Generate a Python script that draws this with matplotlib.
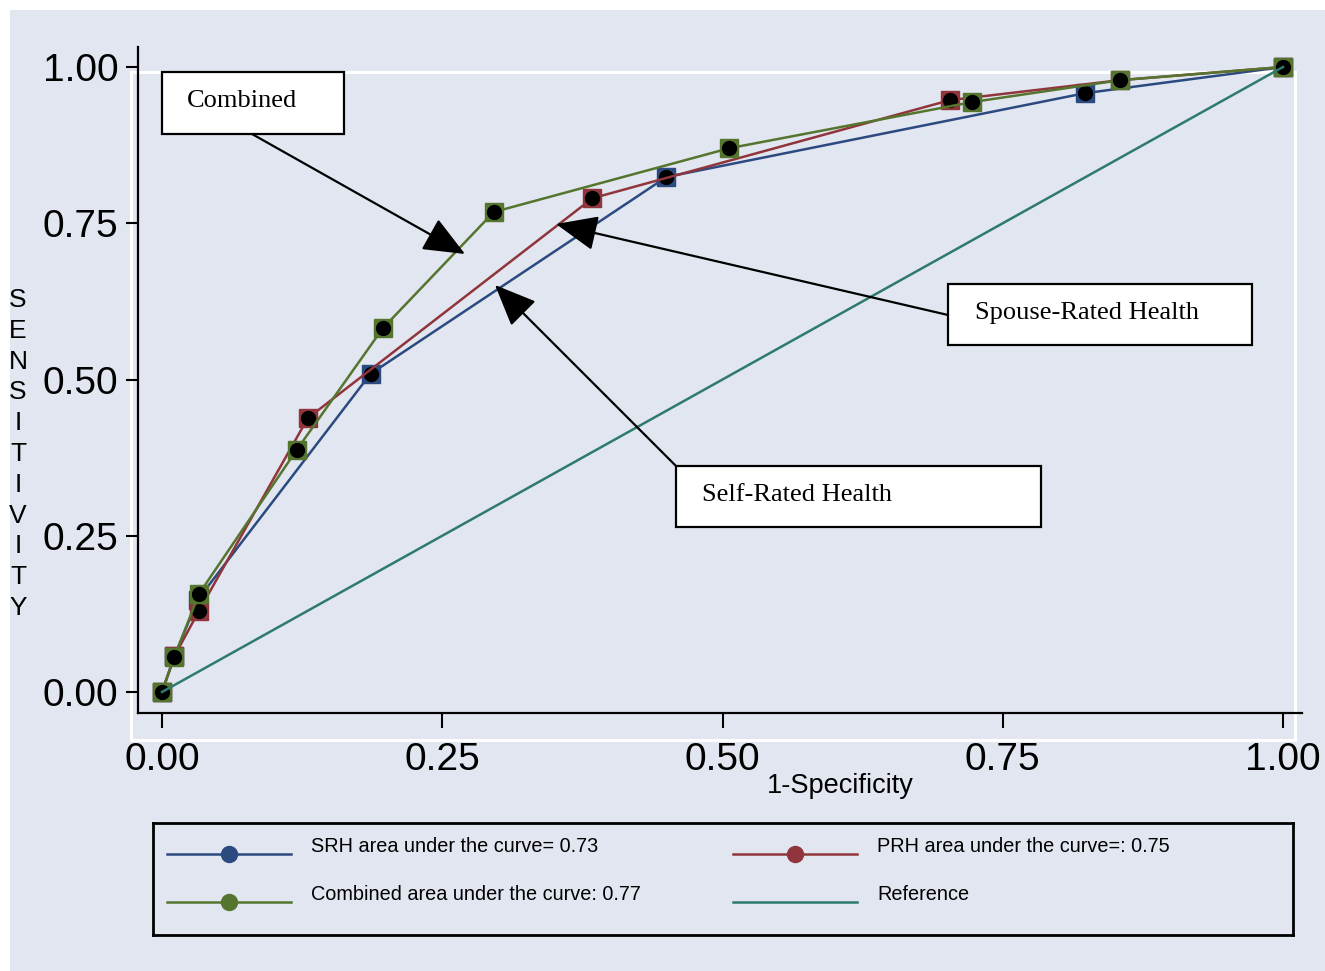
import matplotlib
matplotlib.use("Agg")
import matplotlib.pyplot as plt
from matplotlib.patches import Rectangle, FancyArrowPatch

# ---------------- data ----------------
srh_x = [0.0, 0.011, 0.032, 0.186, 0.450, 0.823, 1.0]
srh_y = [0.0, 0.057, 0.148, 0.509, 0.824, 0.958, 1.0]

prh_x = [0.0, 0.011, 0.033, 0.130, 0.384, 0.703, 0.855, 1.0]
prh_y = [0.0, 0.057, 0.130, 0.438, 0.790, 0.947, 0.979, 1.0]

comb_x = [0.0, 0.011, 0.033, 0.120, 0.197, 0.296, 0.506, 0.723, 0.855, 1.0]
comb_y = [0.0, 0.056, 0.157, 0.387, 0.582, 0.768, 0.870, 0.944, 0.979, 1.0]

ref_x = [0.0, 1.0]
ref_y = [0.0, 1.0]

ticks = [0.0, 0.25, 0.50, 0.75, 1.0]
tick_labels = ["0.00", "0.25", "0.50", "0.75", "1.00"]

legend_labels = ["SRH area under the curve= 0.73",
                 "PRH area under the curve=: 0.75",
                 "Combined area under the curve: 0.77",
                 "Reference"]

# ---------------- style ----------------
W, H = 1325, 971
BG = "#e1e6f0"
C_BLUE = "#2b4a80"
C_RED = "#90353b"
C_GREEN = "#55752f"
C_TEAL = "#2e7a6f"

plt.rcParams["font.family"] = ["Liberation Sans", "DejaVu Sans"]

fig = plt.figure(figsize=(W / 100, H / 100), dpi=100, facecolor="white")

def fx(px):
    return px / W

def fy(py):
    return 1 - py / H

# bluish graph region
fig.add_artist(Rectangle((fx(10), 0), 1 - fx(10), fy(10), transform=fig.transFigure,
                         facecolor=BG, edgecolor="none", zorder=-10))
# white plot-region outline
fig.add_artist(Rectangle((fx(131), fy(740)), fx(1295) - fx(131), fy(72) - fy(740),
                         transform=fig.transFigure, facecolor="none",
                         edgecolor="white", lw=2.2, zorder=-5))

ax = fig.add_axes([fx(138), fy(713), fx(1302) - fx(138), fy(47) - fy(713)])
ax.set_facecolor("none")
x0 = (138 - 162) / 1121
x1 = (1302 - 162) / 1121
y0 = (692 - 713) / 625
y1 = (692 - 47) / 625
ax.set_xlim(x0, x1)
ax.set_ylim(y0, y1)
for s in ["top", "right"]:
    ax.spines[s].set_visible(False)
for s in ["left", "bottom"]:
    ax.spines[s].set_linewidth(1.6)
    ax.spines[s].set_color("black")

ax.set_xticks(ticks)
ax.set_xticklabels(tick_labels)
ax.set_yticks(ticks)
ax.set_yticklabels(tick_labels)
ax.tick_params(axis="x", length=11, width=1.5, pad=10, labelsize=28)
ax.tick_params(axis="y", length=9, width=1.5, pad=5, labelsize=28)

# series
def draw_series(xs, ys, color, z):
    ax.plot(xs, ys, color=color, lw=1.8, marker="s", markersize=12.5,
            markerfacecolor=color, markeredgecolor=color, zorder=z, clip_on=False)
    ax.plot(xs, ys, ls="none", marker="o", markersize=10, color="black",
            zorder=z + 0.5, clip_on=False)

draw_series(srh_x, srh_y, C_BLUE, 3)
draw_series(prh_x, prh_y, C_RED, 4)
draw_series(comb_x, comb_y, C_GREEN, 5)
ax.plot(ref_x, ref_y, color=C_TEAL, lw=1.8, zorder=7, clip_on=False)

# annotation boxes & arrows
def dx(px):
    return (px - 162) / 1121

def dy(py):
    return (692 - py) / 625

def box(l, t, r, b, label, tx):
    ax.add_patch(Rectangle((dx(l), dy(b)), dx(r) - dx(l), dy(t) - dy(b),
                           facecolor="white", edgecolor="black", lw=1.6, zorder=8,
                           clip_on=False))
    ax.text(dx(tx), dy((t + b) / 2 - 2), label, family=["Liberation Serif", "DejaVu Serif"],
            fontsize=19, va="center", ha="left", zorder=9)

box(162, 72, 344, 134, "Combined", 187)
box(948, 284, 1252, 345, "Spouse-Rated Health", 975)
box(676, 466, 1041, 527, "Self-Rated Health", 702)

def arrow(tail, tip):
    a = FancyArrowPatch((dx(tail[0]), dy(tail[1])), (dx(tip[0]), dy(tip[1])),
                        arrowstyle="-|>,head_length=2.6,head_width=1.1",
                        mutation_scale=10, color="black", lw=1.6,
                        shrinkA=0, shrinkB=0, zorder=10, clip_on=False)
    ax.add_patch(a)

arrow((252, 134), (465, 254))
arrow((948, 315), (556, 224))
arrow((676, 466), (495, 285))

# axis titles
fig.text(fx(840), fy(786), "1-Specificity", fontsize=19.5, ha="center", va="center")
for i, ch in enumerate("SENSITIVITY"):
    fig.text(fx(18), fy(300 + i * 30.8), ch, fontsize=19, ha="center", va="center")

# legend
lax = fig.add_axes([fx(153), fy(935), fx(1293) - fx(153), fy(823) - fy(935)])
lax.set_xlim(153, 1293)
lax.set_ylim(935, 823)
lax.set_facecolor("none")
lax.set_xticks([])
lax.set_yticks([])
for s in lax.spines.values():
    s.set_linewidth(2.0)
    s.set_color("black")

entries = [(167, 854, C_BLUE, True), (733, 854, C_RED, True),
           (167, 902, C_GREEN, True), (733, 902, C_TEAL, False)]
for (lx, ly, col, mk), lab in zip(entries, legend_labels):
    lax.plot([lx, lx + 124], [ly, ly], color=col, lw=1.8)
    if mk:
        lax.plot([lx + 62], [ly], marker="o", markersize=11.5, color=col)
    lax.text(lx + 144, ly - 8, lab, fontsize=14.3, ha="left", va="center")

fig.savefig("out.png", dpi=100, facecolor="white")
